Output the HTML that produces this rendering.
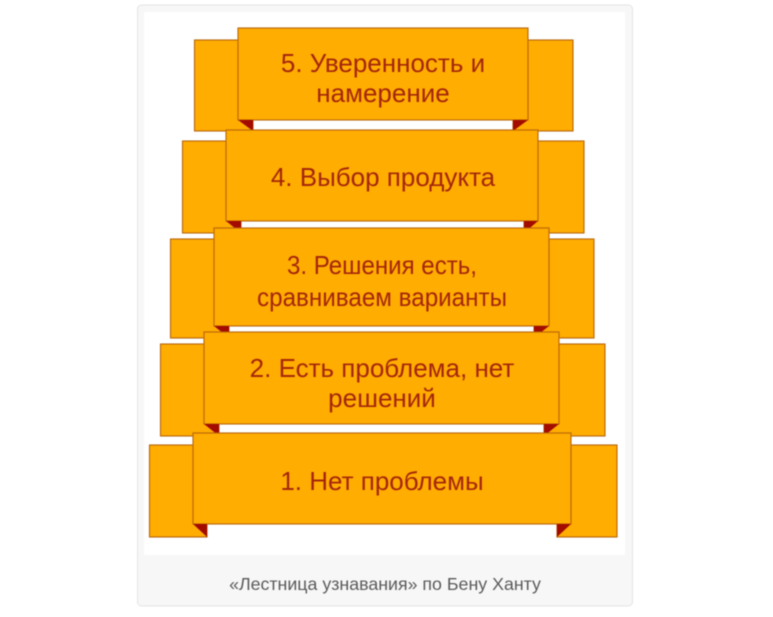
<!DOCTYPE html>
<html lang="ru">
<head>
<meta charset="utf-8">
<title>Лестница узнавания</title>
<style>
html,body{margin:0;padding:0;background:#fff;width:773px;height:617px;overflow:hidden}
svg{display:block;position:absolute;left:0;top:0;filter:blur(0.45px)}
.s,.m{fill:#ffad00;stroke:#b9660c;stroke-width:1.1}
.f{fill:#a30b00}
.t{font-family:"Liberation Sans",sans-serif;font-size:26px;fill:#a5260a;text-anchor:middle}
.c{font-family:"Liberation Sans",sans-serif;font-size:17.800px;fill:#5a5a5a;text-anchor:middle}
</style>
</head>
<body>
<svg width="773" height="617" viewBox="0 0 773 617" xmlns="http://www.w3.org/2000/svg">
<rect x="137.500" y="5" width="495" height="601" rx="4" fill="#f7f7f7" stroke="#e4e4e4"/>
<rect x="144" y="12" width="481" height="543" fill="#fff"/>

<!-- 5 -->
<rect class="s" x="194.500" y="40" width="58.500" height="91"/>
<rect class="s" x="513" y="40" width="60" height="91"/>
<rect class="m" x="238" y="28" width="290" height="92"/>
<polygon class="f" points="238,120 253,120 253,131"/>
<polygon class="f" points="528,120 513,120 513,131"/>
<text class="t" x="383" y="72">5. Уверенность и</text>
<text class="t" x="383" y="102">намерение</text>

<!-- 4 -->
<rect class="s" x="182.500" y="141" width="58.500" height="92"/>
<rect class="s" x="524" y="141" width="60" height="92"/>
<rect class="m" x="226" y="130" width="312" height="91"/>
<polygon class="f" points="226,221 241,221 241,233"/>
<polygon class="f" points="538,221 524,221 524,233"/>
<text class="t" x="383" y="186">4. Выбор продукта</text>

<!-- 3 -->
<rect class="s" x="170.500" y="239" width="58.500" height="99"/>
<rect class="s" x="534" y="239" width="60" height="99"/>
<rect class="m" x="214" y="228" width="335" height="98"/>
<polygon class="f" points="214,326 229,326 229,338"/>
<polygon class="f" points="549,326 534,326 534,338"/>
<text class="t" x="382" y="274" textLength="190" lengthAdjust="spacingAndGlyphs">3. Решения есть,</text>
<text class="t" x="382" y="306" textLength="250" lengthAdjust="spacingAndGlyphs">сравниваем варианты</text>

<!-- 2 -->
<rect class="s" x="160.500" y="344" width="58.500" height="92"/>
<rect class="s" x="544" y="344" width="61" height="92"/>
<rect class="m" x="204" y="332" width="355" height="92"/>
<polygon class="f" points="204,424 219,424 219,436"/>
<polygon class="f" points="559,424 544,424 544,436"/>
<text class="t" x="382" y="377">2. Есть проблема, нет</text>
<text class="t" x="382" y="407">решений</text>

<!-- 1 -->
<rect class="s" x="149.500" y="445" width="57.500" height="92"/>
<rect class="s" x="557" y="445" width="60" height="92"/>
<rect class="m" x="193" y="433" width="378" height="91"/>
<polygon class="f" points="193,524 207,524 207,537"/>
<polygon class="f" points="571,524 557,524 557,537"/>
<text class="t" x="382" y="490">1. Нет проблемы</text>

<text class="c" x="385" y="590">«Лестница узнавания» по Бену Ханту</text>
</svg>
</body>
</html>
